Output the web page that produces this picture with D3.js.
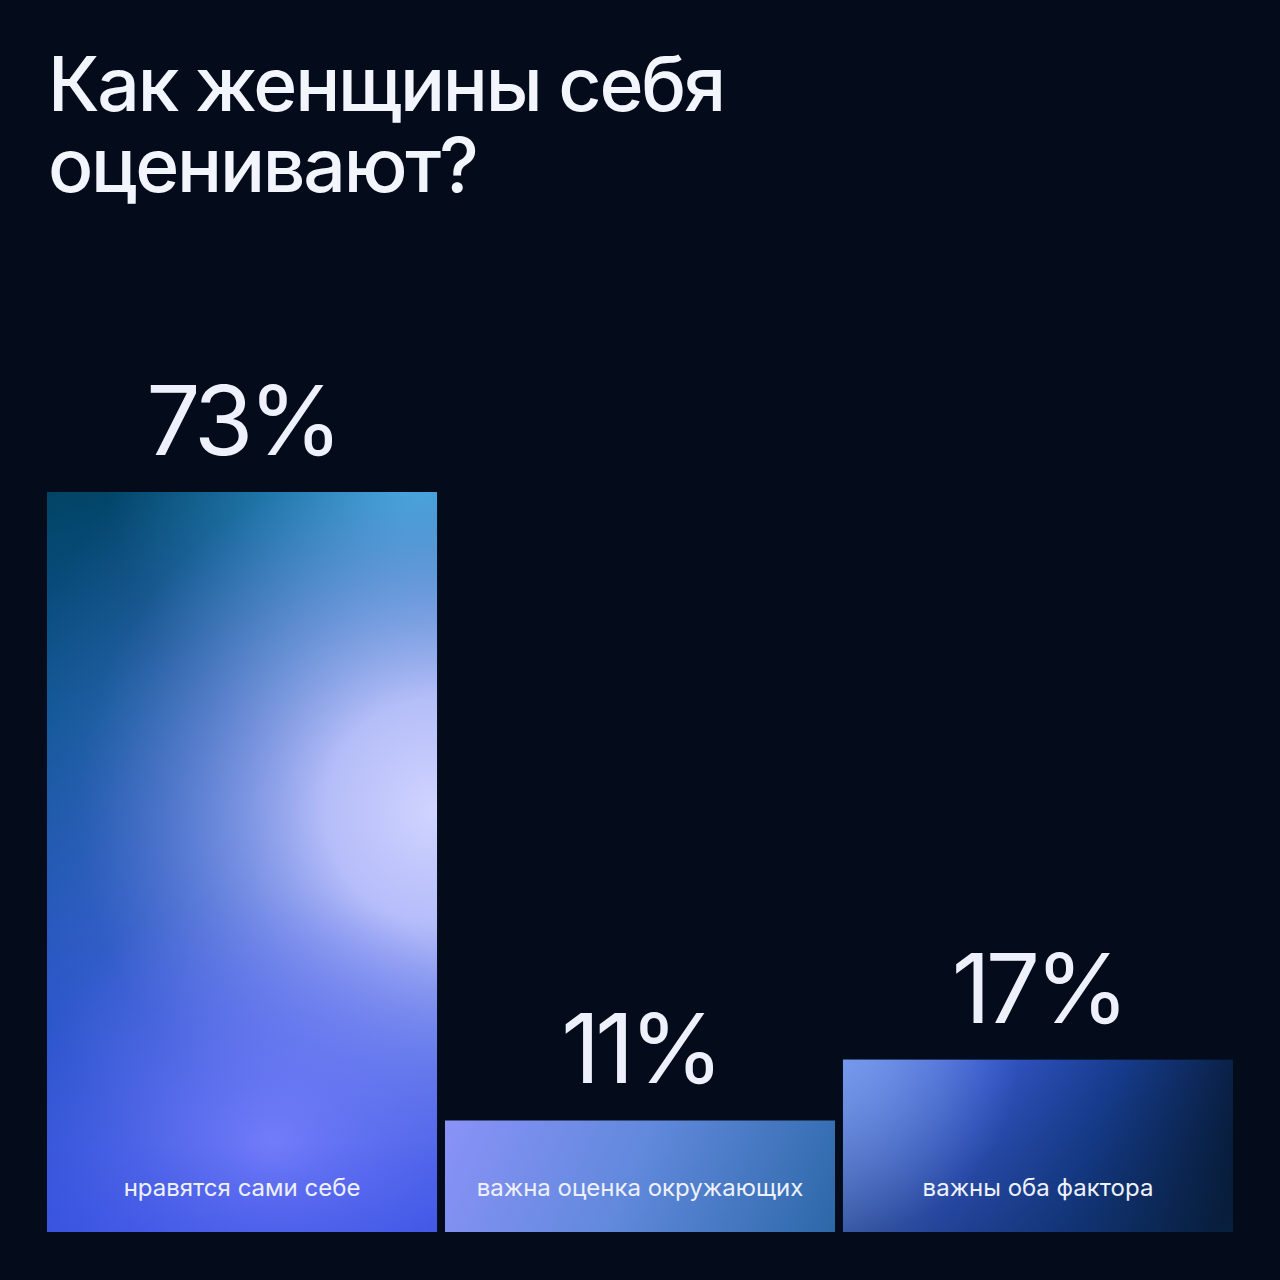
<!DOCTYPE html>
<html>
<head>
<meta charset="utf-8">
<script src="https://cdn.jsdelivr.net/npm/d3@7"></script>
<style>
  html, body { margin: 0; padding: 0; background: #040c1b; }
  svg { display: block; }
</style>
</head>
<body>
<div id="chart"></div>
<script>
const titleLines = ["Как женщины себя", "оценивают?"]
const categories = ["нравятся сами себе", "важна оценка окружающих", "важны оба фактора"]
const values = [73, 11, 17]
const valueLabels = ["73%", "11%", "17%"]

const W = 1280, H = 1280

const svg = d3.select("#chart").append("svg")
    .attr("width", W)
    .attr("height", H)

svg.append("rect")
    .attr("width", W)
    .attr("height", H)
    .attr("fill", "#040c1b")

const x = d3.scaleBand()
    .domain(categories)
    .range([47, 1233])
    .paddingInner(0.02)

const y = d3.scaleLinear()
    .domain([0, 73])
    .range([1232, 492])

const defs = svg.append("defs")

// gradients in user space so the radial glows stay round
const box = i => {
    const x0 = x(categories[i]), y0 = y(values[i])
    return { x0, y0, w: x.bandwidth(), h: y(0) - y0 }
}
const addStops = (g, stops) => stops.forEach(s => g.append("stop")
    .attr("offset", s[0]).attr("stop-color", s[1])
    .attr("stop-opacity", s[2] == null ? 1 : s[2]))
const linear = (id, p1, p2, stops) => {
    const g = defs.append("linearGradient").attr("id", id)
        .attr("gradientUnits", "userSpaceOnUse")
        .attr("x1", p1[0]).attr("y1", p1[1])
        .attr("x2", p2[0]).attr("y2", p2[1])
    addStops(g, stops)
}
const radial = (id, c, r, stops) => {
    const g = defs.append("radialGradient").attr("id", id)
        .attr("gradientUnits", "userSpaceOnUse")
        .attr("cx", c[0]).attr("cy", c[1]).attr("r", r)
    addStops(g, stops)
}

// bar 1
const b1 = box(0)
linear("b1base", [b1.x0, b1.y0], [b1.x0 + 0.45 * b1.w, b1.y0 + b1.h],
    [[0, "#024466"], [0.3, "#0f5696"], [0.65, "#2a56c8"], [1, "#3a54e4"]])
radial("b1cyan", [b1.x0 + 0.95 * b1.w, b1.y0 - 0.03 * b1.h], 0.8 * b1.w,
    [[0, "#3ab2dc", 1], [0.5, "#1a8ebc", 0.6], [1, "#0e7aa8", 0]])
radial("b1glow", [b1.x0 + 1.0 * b1.w, b1.y0 + 0.43 * b1.h], 1.15 * b1.w,
    [[0, "#d0d4ff", 1], [0.25, "#c2c6ff", 0.92], [0.55, "#9aa6f8", 0.5], [0.8, "#8090f0", 0.12], [1, "#8090f0", 0]])
radial("b1violet", [b1.x0 + 0.58 * b1.w, b1.y0 + 0.88 * b1.h], 0.65 * b1.w,
    [[0, "#7b82ff", 0.85], [1, "#6a74f8", 0]])
linear("b1foot", [0, b1.y0 + 0.88 * b1.h], [0, b1.y0 + b1.h],
    [[0, "#3a52e0", 0], [1, "#3a52e0", 0.4]])

// bar 2
const b2 = box(1)
linear("b2", [b2.x0, b2.y0], [b2.x0 + b2.w, b2.y0 + b2.h + 60],
    [[0, "#8a92f8"], [0.45, "#6189dc"], [1, "#2664a2"]])

// bar 3
const b3 = box(2)
linear("b3base", [b3.x0, b3.y0], [b3.x0 + b3.w, b3.y0 + 0.7 * b3.h],
    [[0, "#6a8ce2"], [0.35, "#3456c8"], [0.65, "#163c8e"], [1, "#061830"]])
linear("b3shade", [0, b3.y0], [0, b3.y0 + b3.h],
    [[0, "#0a2850", 0], [1, "#0a2850", 0.4]])
radial("b3light", [b3.x0, b3.y0], 0.45 * b3.w,
    [[0, "#7c9ef0", 0.7], [1, "#7c9ef0", 0]])

const fills = [
    ["url(#b1base)", "url(#b1cyan)", "url(#b1glow)", "url(#b1violet)", "url(#b1foot)"],
    ["url(#b2)"],
    ["url(#b3base)", "url(#b3shade)", "url(#b3light)"]
]

const bars = svg.append("g").selectAll("g")
    .data(categories)
    .join("g")

bars.each(function(d, i) {
    const g = d3.select(this)
    fills[i].forEach(f => {
        g.append("rect")
            .attr("x", x(d))
            .attr("y", y(values[i]))
            .attr("width", x.bandwidth())
            .attr("height", y(0) - y(values[i]))
            .attr("fill", f)
    })
})

// value labels
svg.append("g").selectAll("text")
    .data(categories)
    .join("text")
    .attr("x", d => x(d) + x.bandwidth() / 2)
    .attr("y", (d, i) => y(values[i]) - 37)
    .attr("text-anchor", "middle")
    .attr("fill", "#eef1fb")
    .attr("font-family", "Inter, sans-serif")
    .attr("font-size", 96)
    .attr("font-weight", 400)
    .attr("letter-spacing", -5)
    .text((d, i) => valueLabels[i])

// category labels
svg.append("g").selectAll("text")
    .data(categories)
    .join("text")
    .attr("x", d => x(d) + x.bandwidth() / 2)
    .attr("y", 1196)
    .attr("text-anchor", "middle")
    .attr("fill", "#eef1fb")
    .attr("font-family", "Inter, sans-serif")
    .attr("font-size", 24)
    .attr("font-weight", 400)
    .text(d => d)

// title
svg.append("g").selectAll("text")
    .data(titleLines)
    .join("text")
    .attr("x", 48)
    .attr("y", (d, i) => 111 + i * 81)
    .attr("fill", "#f3f5fc")
    .attr("font-family", "Inter, sans-serif")
    .attr("font-size", 75)
    .attr("font-weight", 500)
    .attr("letter-spacing", -2.2)
    .text(d => d)
</script>
</body>
</html>
